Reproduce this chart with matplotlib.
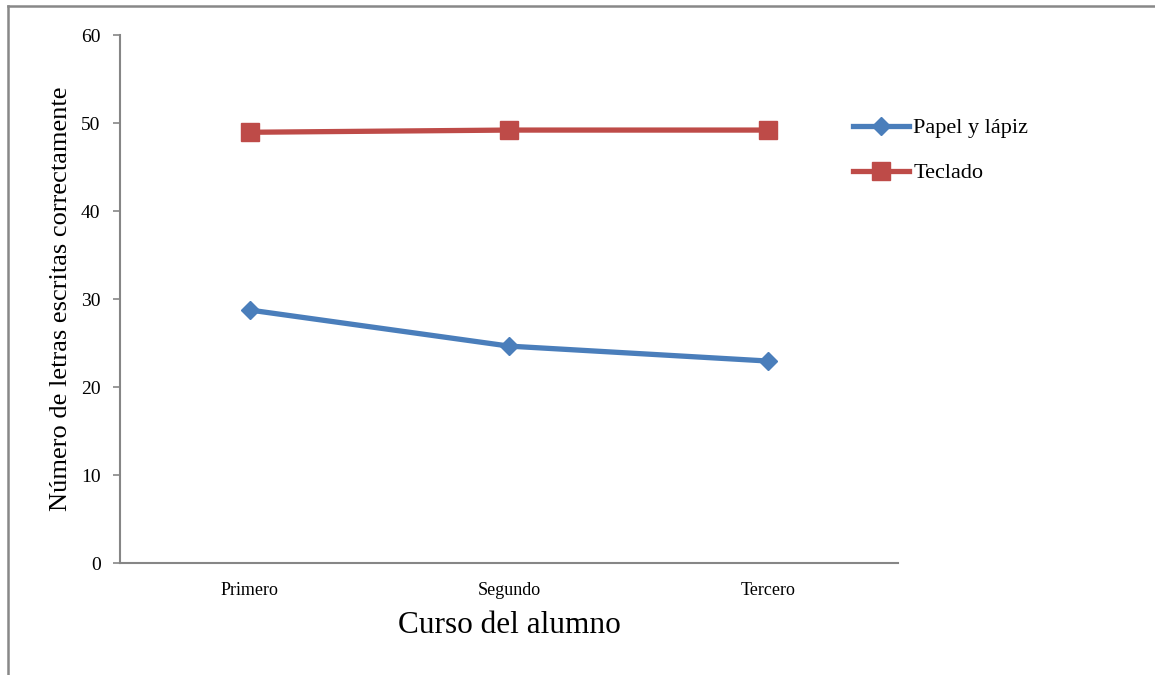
import matplotlib.pyplot as plt
from matplotlib.lines import Line2D

# Data
cursos = ["Primero", "Segundo", "Tercero"]
papel_lapiz = [28.75, 24.65, 22.95]
teclado = [48.95, 49.2, 49.2]

plt.rcParams["font.family"] = ["Liberation Serif", "DejaVu Serif"]

fig = plt.figure(figsize=(11.55, 6.75), dpi=100)
ax = fig.add_axes([0.1039, 0.1659, 0.6736, 0.7822])

x = range(len(cursos))
ax.plot(x, papel_lapiz, color="#4A7EBB", lw=3.8, marker="D", ms=9,
        label="Papel y lápiz")
ax.plot(x, teclado, color="#BE4B48", lw=3.8, marker="s", ms=12.5,
        label="Teclado")

ax.set_xlim(-0.5, 2.5)
ax.set_ylim(0, 60)
ax.set_yticks(range(0, 61, 10))
ax.set_xticks(list(x))
ax.set_xticklabels(cursos, fontsize=13)
ax.tick_params(axis="y", labelsize=14, length=5, width=1.2, color="#868686", pad=9)
ax.tick_params(axis="x", length=0, pad=14)

for side in ["top", "right"]:
    ax.spines[side].set_visible(False)
for side in ["left", "bottom"]:
    ax.spines[side].set_color("#868686")
    ax.spines[side].set_linewidth(1.5)

ax.set_xlabel("Curso del alumno", fontsize=22.5, labelpad=8)
ax.set_ylabel("Número de letras escritas correctamente", fontsize=19)
ax.yaxis.set_label_coords(-0.062, 0.5)

ax.legend(loc="upper left", bbox_to_anchor=(0.917, 0.881), frameon=False,
          fontsize=16, handlelength=2.5, handletextpad=0.2, labelspacing=1.1)

# outer chart border (top and left only visible)
fig.add_artist(Line2D([0.007, 1.0], [0.991, 0.991], color="#888888", lw=1.8,
                      transform=fig.transFigure))
fig.add_artist(Line2D([0.007, 0.007], [0.0, 0.991], color="#888888", lw=1.8,
                      transform=fig.transFigure))

fig.savefig("out.png", dpi=100)
